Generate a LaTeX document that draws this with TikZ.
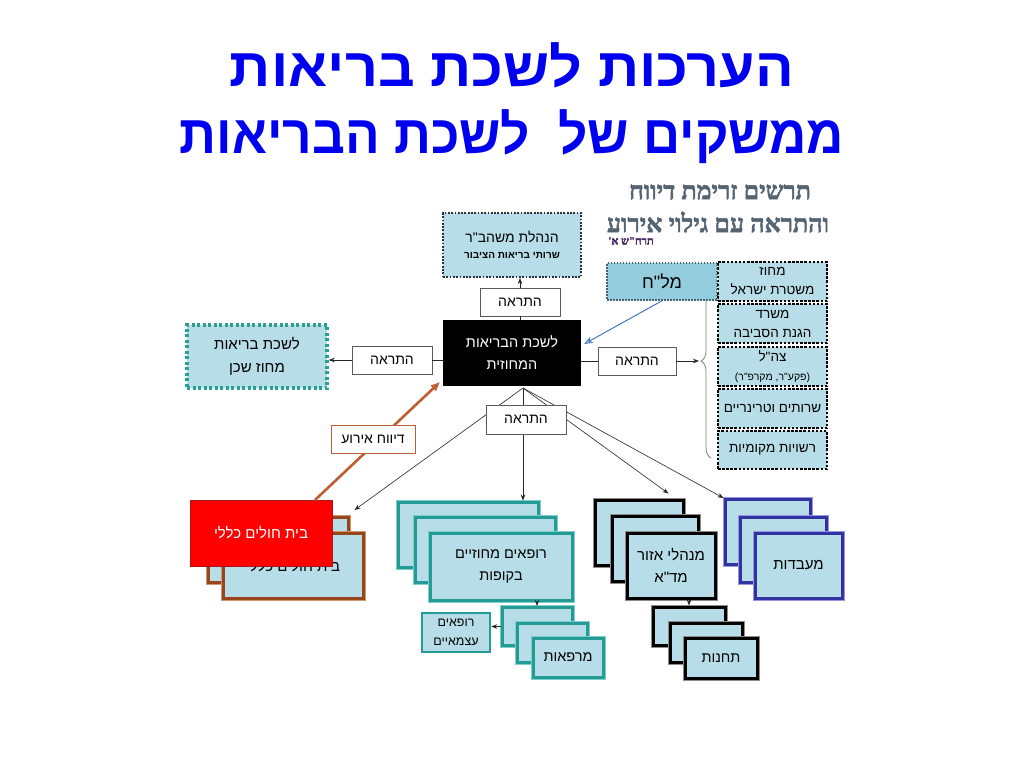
\documentclass[tikz,border=0pt]{standalone}
\usepackage{fontspec}
\usepackage{graphicx}
\usetikzlibrary{arrows.meta,decorations.pathreplacing,calc}
\TeXXeTstate=1
\newfontfamily\heb[Script=Hebrew]{Liberation Sans}
\newfontfamily\hebs[Script=Hebrew,FakeBold=2]{Liberation Serif Bold}
\newcommand{\hb}[1]{\beginR #1\endR}
\definecolor{lightb}{RGB}{183,222,232}
\definecolor{malb}{RGB}{147,205,221}
\definecolor{tealc}{RGB}{35,155,150}
\definecolor{teall}{RGB}{130,205,200}
\definecolor{brownc}{RGB}{150,70,25}
\definecolor{brownl}{RGB}{205,150,110}
\definecolor{bluec}{RGB}{50,50,160}
\definecolor{bluel}{RGB}{150,150,225}
\definecolor{redc}{RGB}{255,0,0}
\definecolor{redd}{RGB}{170,20,20}
\definecolor{titleblue}{RGB}{0,0,240}
\definecolor{headc}{RGB}{85,100,115}
\definecolor{purp}{RGB}{70,40,100}
\definecolor{arrblue}{RGB}{70,120,190}
\definecolor{braceg}{RGB}{130,130,130}
\definecolor{brarrow}{RGB}{190,95,50}
\definecolor{graybd}{RGB}{90,90,90}
\definecolor{neighc}{RGB}{40,160,150}
\tikzset{
  titlef/.style={font=\heb\bfseries\fontsize{54}{60}\selectfont, text=titleblue, inner sep=0pt},
  headf/.style={font=\hebs\fontsize{25}{27}\selectfont, text=headc, inner sep=0pt},
  lb/.style={rectangle, fill=lightb, inner sep=0pt, align=center, font=\heb\fontsize{13.5}{19}\selectfont},
  alertbox/.style={rectangle, draw=graybd, line width=0.8pt, fill=white, minimum width=80pt, minimum height=28pt, font=\heb\fontsize{14}{16}\selectfont, inner sep=0pt},
  dotbox/.style={lb, draw=black, line width=2.6pt, dash pattern=on 2.5pt off 1.6pt, minimum width=109pt, minimum height=39pt},
  hqbox/.style={lb, draw={rgb,255:red,40;green,50;blue,60}, line width=2pt, dash pattern=on 1.8pt off 1.5pt, minimum width=138pt, minimum height=64pt, font=\heb\fontsize{14}{19}\selectfont},
  centerbox/.style={rectangle, fill=black, text=white, inner sep=0pt, align=center, minimum width=138pt, minimum height=66pt, font=\heb\fontsize{14.5}{22}\selectfont},
  neighbox/.style={lb, draw=neighc, line width=3.5pt, dash pattern=on 3pt off 2.5pt, minimum width=140pt, minimum height=63pt, font=\heb\fontsize{15}{23}\selectfont},
  malbox/.style={lb, fill=malb, draw={rgb,255:red,70;green,100;blue,120}, line width=1.5pt, dash pattern=on 1.5pt off 1.5pt, minimum width=110pt, minimum height=37pt, font=\heb\fontsize{18}{20}\selectfont},
  hosp/.style={lb, draw=brownc, line width=3pt, preaction={draw=brownl, line width=5pt}, minimum width=140pt, minimum height=65pt, font=\heb\fontsize{15}{20}\selectfont},
  redbox/.style={rectangle, fill=redc, draw=redd, line width=1pt, text=white, inner sep=0pt, minimum width=142pt, minimum height=66pt, font=\heb\fontsize{15}{20}\selectfont},
  rufa/.style={lb, draw=tealc, line width=3pt, preaction={draw=teall, line width=5pt}, minimum width=140pt, minimum height=65pt, font=\heb\fontsize{14.5}{22}\selectfont},
  mgr/.style={lb, draw=black, line width=3pt, preaction={draw=black!45, line width=5pt}, minimum width=87pt, minimum height=65pt, font=\heb\fontsize{15}{22}\selectfont},
  lab/.style={lb, draw=bluec, line width=3pt, preaction={draw=bluel, line width=5pt}, minimum width=86pt, minimum height=65pt, font=\heb\fontsize{15}{22}\selectfont},
  clin/.style={lb, draw=tealc, line width=3pt, preaction={draw=teall, line width=5pt}, minimum width=70pt, minimum height=38pt, font=\heb\fontsize{14.5}{18}\selectfont},
  stat/.style={lb, draw=black, line width=3pt, preaction={draw=black!45, line width=5pt}, minimum width=72pt, minimum height=39pt, font=\heb\fontsize{14.5}{18}\selectfont},
  indep/.style={lb, draw=tealc, line width=2.5pt, minimum width=68pt, minimum height=39pt, font=\heb\fontsize{12.5}{19}\selectfont},
  reportbox/.style={rectangle, draw=brarrow, line width=1pt, fill=white, inner sep=0pt, minimum width=84pt, minimum height=28pt, font=\heb\fontsize{14}{16}\selectfont},
  arr/.style={-{Stealth[length=6pt,width=4.5pt]}, line width=0.6pt, draw=black!85},
  ln/.style={line width=0.6pt, draw=black!85},
  bluearr/.style={-{Stealth[length=9pt,width=7pt,open]}, line width=1pt, draw=arrblue},
  brarr/.style={-{Triangle[length=9pt,width=7pt]}, line width=2.6pt, draw=brarrow},
}
\begin{document}
\begin{tikzpicture}[x=1pt,y=-1pt]
\fill[white] (0,0) rectangle (1024,768);
\useasboundingbox (0,0) rectangle (1024,768);

% titles
\node[titlef] (t1) at (512,65) {\scalebox{1.063}[1]{\hb{הערכות לשכת בריאות}}};
\node[titlef] (t2) at (512,137) {\scalebox{0.952}[1]{\hb{ממשקים של~ לשכת הבריאות}}};

% heading top right
\node[headf] (h1) at (720,192) {\hb{תרשים זרימת דיווח}};
\node[headf] (h2) at (718,222) {\hb{והתראה עם גילוי אירוע}};
\node[font=\hebs\fontsize{11}{12}\selectfont, text=purp, inner sep=0pt] (h3) at (631,241) {\hb{תרח"ש א'}};

% top part
\node[hqbox] (hq) at (512,245) {\hb{הנהלת משהב"ר}\\[-3pt]{\bfseries\fontsize{10}{12}\selectfont\hb{שרותי בריאות הציבור}}};
\node[alertbox] (aT) at (520,302) {\hb{התראה}};
\node[centerbox] (ctr) at (512,353) {\hb{לשכת הבריאות}\\\hb{המחוזית}};
\node[alertbox] (aL) at (392,360) {\hb{התראה}};
\node[neighbox] (nb) at (257,356.5) {\hb{לשכת בריאות}\\\hb{מחוז שכן}};
\node[alertbox, minimum width=78pt] (aR) at (637,361) {\hb{התראה}};

\draw[arr] (aT.north) -- (aT.north |- hq.south);
\draw[ln] (aT.south) -- (aT.south |- ctr.north);
\draw[ln] (aL.east -| ctr.west) -- (aL.east);
\draw[arr] (aL.west) -- (aL.west -| nb.east);
\draw[ln] (aR.west -| ctr.east) -- (aR.west);
\coordinate (bt) at (699,361);
\draw[arr] (aR.east) -- (bt);

% brace
\draw[braceg, line width=0.8pt, decorate, decoration={brace, amplitude=10pt}] (711,458) -- (711,264);

% right column
\node[dotbox] (r1) at (772.5,281.5) {\hb{מחוז}\\\hb{משטרת ישראל}};
\node[dotbox] (r2) at (772.5,323.5) {\hb{משרד}\\\hb{הגנת הסביבה}};
\node[dotbox] (r3) at (772.5,366.5) {\hb{צה"ל}\\{\fontsize{10.5}{12}\selectfont\hb{(פקע"ר, מקרפ"ר)}}};
\node[dotbox] (r4) at (772.5,408.5) {\hb{שרותים וטרינריים}};
\node[dotbox, minimum height=38pt] (r5) at (772.5,450) {\hb{רשויות מקומיות}};

% malach
\node[malbox] (ml) at (662,281.5) {\hb{מל"ח}};
\draw[bluearr] (ml.south) -- ($(ctr.east)+(3,-9)$);

% bottom groups
\node[hosp] (hb1) at (278,550) {};
\node[hosp] (hb2) at (293,566) {\hb{בית חולים כללי}};
\node[redbox] (hr) at (261,533) {\hb{בית חולים כללי}};

\node[rufa] (rA) at (468,534.5) {};
\node[rufa] (rB) at (485,550) {};
\node[rufa, minimum width=142pt, minimum height=67pt] (rC) at (501,566.5) {\hb{רופאים מחוזיים}\\\hb{בקופות}};

\node[mgr, minimum width=88pt] (m1) at (639,532.5) {};
\node[mgr, minimum width=86pt] (m2) at (655,549) {};
\node[mgr, minimum width=88pt] (m3) at (671,565.5) {\hb{מנהלי אזור}\\\hb{מד"א}};

\node[lab, minimum width=85pt] (l1) at (767.5,532) {};
\node[lab] (l2) at (783,549.5) {};
\node[lab, minimum width=87pt] (l3) at (798.5,565.5) {\hb{מעבדות}};

\node[clin] (d1) at (537,626.5) {};
\node[clin, minimum height=39pt] (d2) at (552,642.5) {};
\node[clin, minimum height=39pt] (d3) at (568,657.5) {\hb{מרפאות}};
\node[indep] (ind) at (456,632.5) {\hb{רופאים}\\\hb{עצמאיים}};

\node[stat, minimum height=38pt] (e1) at (689,626) {};
\node[stat] (e2) at (706,642.5) {};
\node[stat, minimum height=40pt] (e3) at (721,658) {\hb{תחנות}};

\draw[arr] (d1.north |- rC.south) -- (d1.north);
\draw[arr] (d1.west) -- (d1.west -| ind.east);
\draw[arr] (e1.north |- m3.south) -- (e1.north);

% fan from center
\coordinate (ap) at (523,388);
\draw[arr] (ap) -- ($(hb1.north east)+(5,-6)$);
\draw[arr] (ap) -- (ap |- rA.north);
\draw[arr] (ap) -- ($(m1.north east)+(-16,-5)$);
\draw[arr] (ap) -- (l1.north west);
\node[alertbox, minimum height=29pt] (aB) at (526,419.5) {\hb{התראה}};

% incident report
\coordinate (rs) at (315,500);
\draw[brarr] (rs) -- ($(ctr.south west)+(-3,-4)$);
\node[reportbox] (rep) at (373,439) {\hb{דיווח אירוע}};
\end{tikzpicture}
\end{document}
